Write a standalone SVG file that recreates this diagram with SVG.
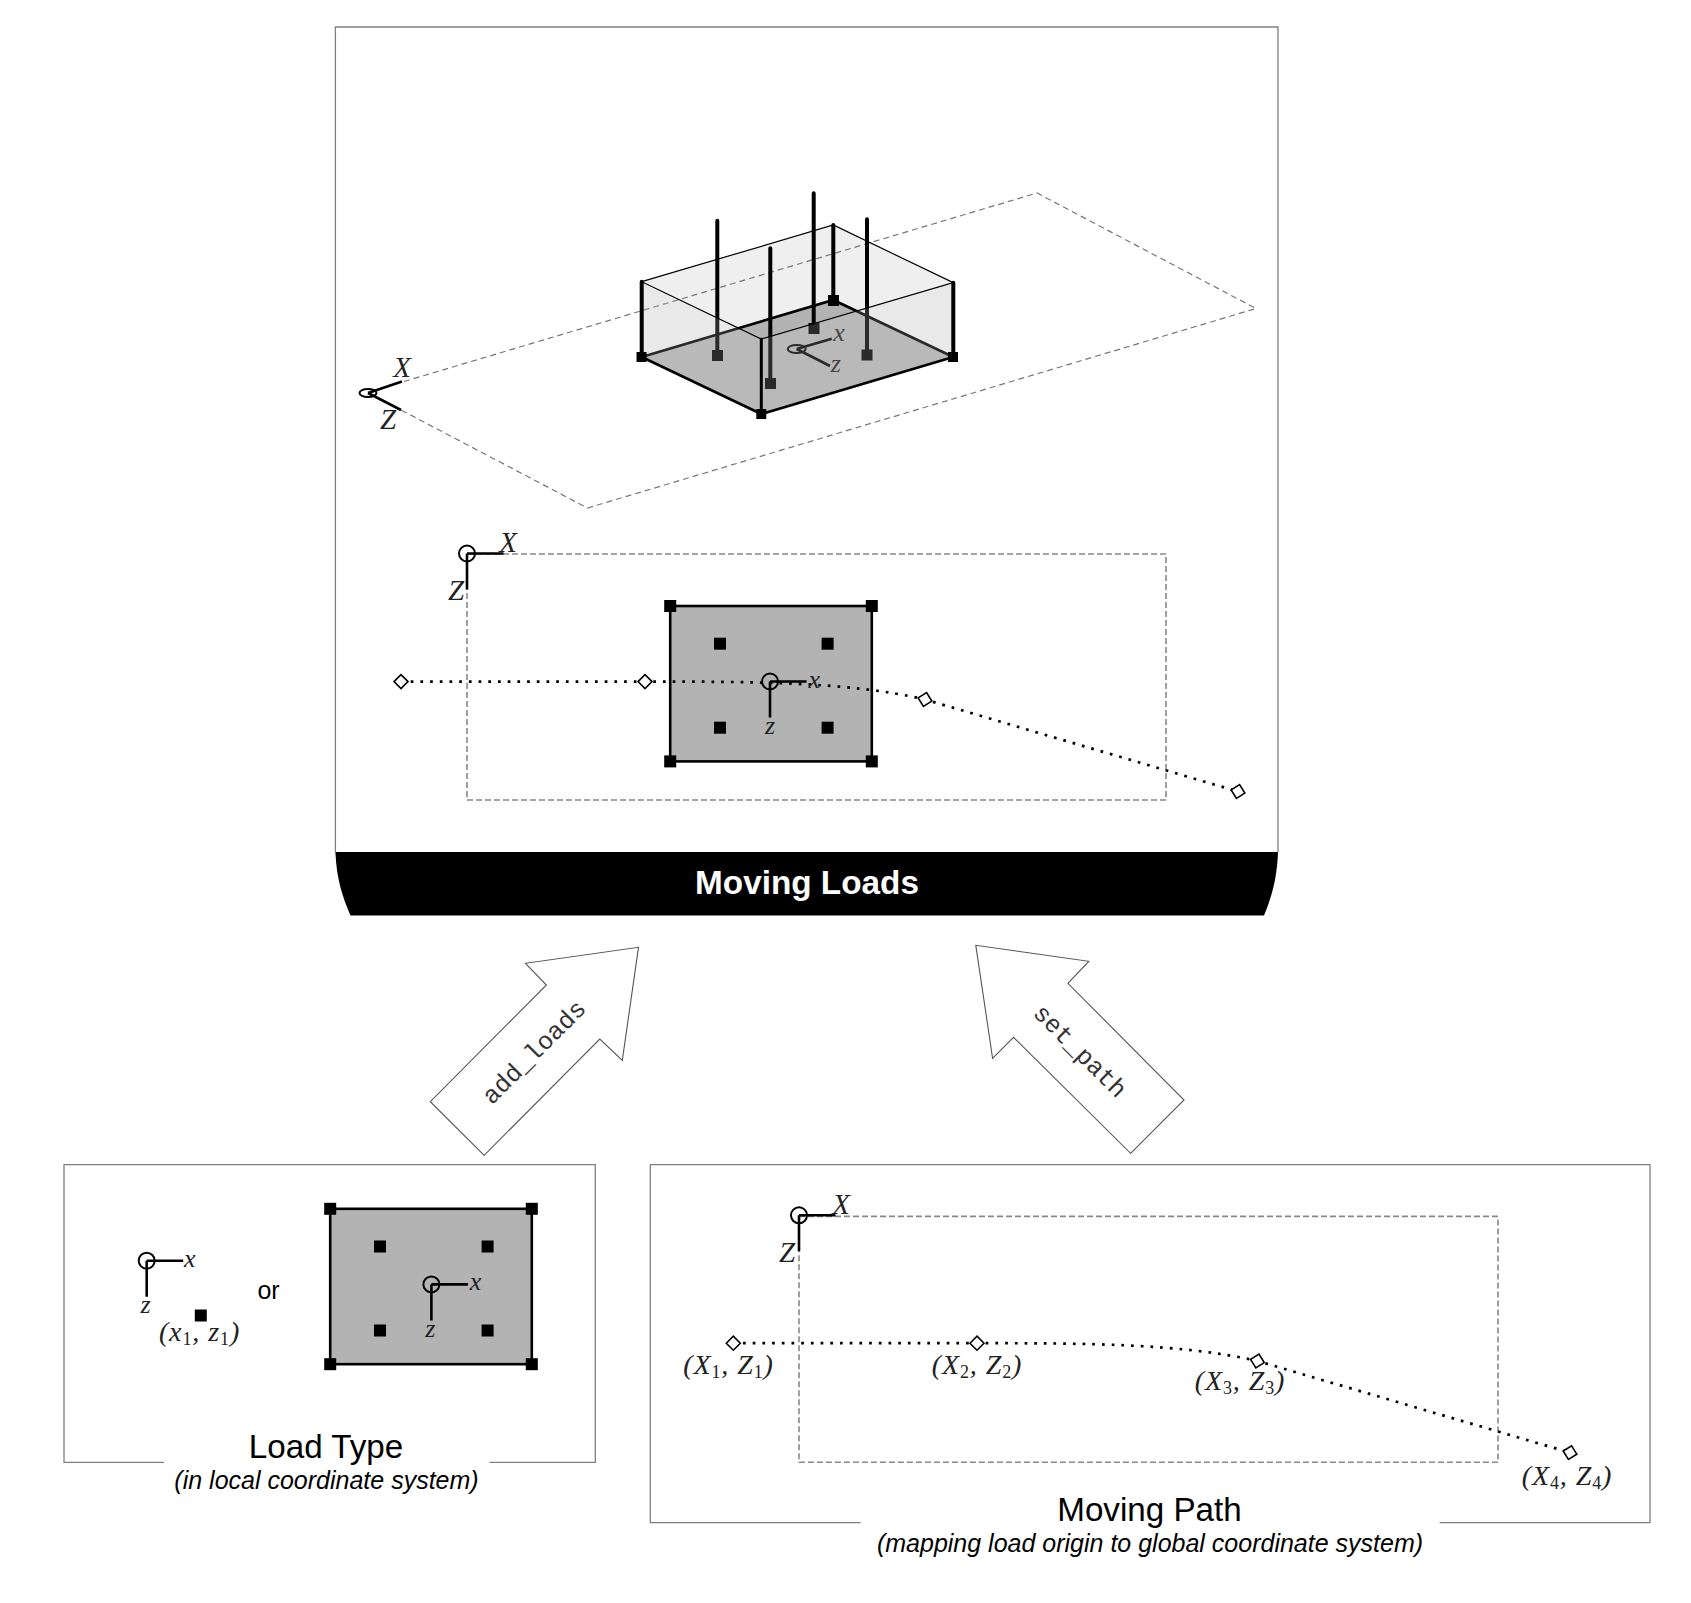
<svg xmlns="http://www.w3.org/2000/svg" width="1691" height="1603" viewBox="0 0 1691 1603">
<defs>
<style>
.frame{fill:none;stroke:#808080;stroke-width:1.3}
.dash{fill:none;stroke:#777;stroke-width:1.2;stroke-dasharray:6 4}
.dash2{fill:none;stroke:#888;stroke-width:1.6;stroke-dasharray:6 3}
.dot{fill:none;stroke:#000;stroke-width:2.7;stroke-dasharray:2.7 7}
.axis{fill:none;stroke:#000;stroke-width:2.6}
.ring{fill:none;stroke:#000;stroke-width:2}
.m{font-family:"Liberation Serif",serif;font-style:italic;font-size:26px;fill:#222;text-anchor:middle}
.M{font-family:"Liberation Serif",serif;font-style:italic;font-size:29px;fill:#222;text-anchor:middle}
.p{font-family:"Liberation Serif",serif;font-style:italic;font-size:28px;fill:#222;text-anchor:middle;letter-spacing:.9px}
.s{font-size:18px;font-style:normal}
.t{font-family:"Liberation Sans",Arial,sans-serif;font-size:33.2px;fill:#000;text-anchor:middle}
.st{font-family:"Liberation Sans",Arial,sans-serif;font-size:25px;font-style:italic;fill:#000;text-anchor:middle}
.mono{font-family:"Liberation Mono",monospace;font-size:25px;fill:#333;text-anchor:middle}
.arrow{fill:#fff;stroke:#555;stroke-width:1.1}
.plate{fill:#b3b3b3;stroke:#000;stroke-width:2.6}
.dia{fill:#fff;stroke:#000;stroke-width:1.6}
</style>
<rect id="sq" x="-6" y="-6" width="12" height="12" fill="#000"/>
<path id="diamond" class="dia" d="M-7 0L0-7L7 0L0 7Z"/>
<g id="plate">
<rect class="plate" x="-100.8" y="-77.7" width="201.6" height="155.4"/>
<use href="#sq" x="-100.8" y="-77.7"/><use href="#sq" x="100.8" y="-77.7"/><use href="#sq" x="-100.8" y="77.7"/><use href="#sq" x="100.8" y="77.7"/>
<use href="#sq" x="-51" y="-40"/><use href="#sq" x="56.6" y="-40"/><use href="#sq" x="-51" y="44"/><use href="#sq" x="56.6" y="44"/>
</g>
<g id="axes2d">
<circle class="ring" r="8"/><path class="axis" d="M0 0H36.5M0 0V36"/>
</g>
</defs>
<rect width="1691" height="1603" fill="#fff"/>

<g id="moving-loads">
<path class="frame" d="M335.4 852V27H1278V852"/>
<path d="M335.4 852H1278C1277 880 1271 898 1264 915.6H350.5C343 898 336.5 880 335.4 852Z" fill="#000"/>
<text x="807" y="894" font-family="Liberation Sans,Arial,sans-serif" font-weight="700" font-size="33.3" fill="#fff" text-anchor="middle">Moving Loads</text>
</g>

<g id="plan-3d">
<path d="M641.7 281.7L833.3 225L953.3 282.7V357L761.3 414L641.7 357Z" fill="#efefef"/>
<path d="M641.7 357L833.3 300L953.3 357L761.3 414Z" fill="#b3b3b3"/>
<path class="dash" d="M404 381.5L1037 193L1256 308.5L587.5 508L401 410"/>
<path d="M641.7 357L833.3 300L953.3 357" fill="none" stroke="#000" stroke-width="2.6"/>
<path d="M833.3 300V225" stroke="#000" stroke-width="4" stroke-linecap="round"/>
<rect x="828" y="295" width="11" height="11" fill="#000"/>
<g stroke="#000" stroke-width="4" stroke-linecap="round">
<path d="M717.3 355V220.7M770.3 383V248.3M813.7 327.7V193.3M867 354.3V219.3"/>
</g>
<rect x="712" y="350" width="11" height="11"/><rect x="765" y="378" width="11" height="11"/><rect x="808.5" y="323" width="11" height="11"/><rect x="861.5" y="349.5" width="11" height="11"/>
<ellipse class="ring" cx="796.7" cy="349" rx="9" ry="4"/>
<path class="axis" d="M796.7 349L831.7 338.7M796.7 349L830 366"/>
<text class="m" x="839" y="341">x</text>
<text class="m" x="835.7" y="372">z</text>
<path d="M641.7 281.7L761.3 339V414L641.7 357Z" fill="#d0d0d0" fill-opacity=".2"/>
<path d="M761.3 339L953.3 282.7V357L761.3 414Z" fill="#d0d0d0" fill-opacity=".2"/>
<path d="M641.7 281.7L833.3 225L953.3 282.7L761.3 339Z" fill="none" stroke="#000" stroke-width="1.2"/>
<path d="M641.7 357L761.3 414L953.3 357" fill="none" stroke="#000" stroke-width="2.6"/>
<path d="M641.7 357V281.7M953.3 357V282.7" stroke="#000" stroke-width="4" stroke-linecap="round"/>
<path d="M761.3 414V339" stroke="#000" stroke-width="3" stroke-linecap="round"/>
<rect x="636.5" y="352" width="10" height="10"/><rect x="948" y="352" width="10" height="10"/><rect x="756.3" y="409" width="10" height="10"/>
<ellipse class="ring" cx="368" cy="393" rx="8.5" ry="4"/>
<path class="axis" d="M368 393L402 381.5M368 393L401 410"/>
<text class="M" x="402" y="377">X</text>
<text class="M" x="388" y="429">Z</text>
</g>

<g id="plan-top">
<rect class="dash2" x="467" y="554" width="699" height="246"/>
<use href="#plate" x="771" y="683.7"/>
<path class="dot" d="M401 681.6H645C750 681.6 850 681.6 925 699.5L1238 791.5"/>
<use href="#diamond" x="401" y="681.6"/><use href="#diamond" x="645" y="681.6"/>
<use href="#diamond" transform="translate(925 699.5) rotate(13)"/><use href="#diamond" transform="translate(1238 791.5) rotate(13)"/>
<use href="#axes2d" x="770" y="681.5"/>
<text class="m" x="814.2" y="687.5">x</text><text class="m" x="770" y="734">z</text>
<use href="#axes2d" x="467" y="553.5"/>
<text class="M" x="508" y="552">X</text><text class="M" x="456" y="599.5">Z</text>
</g>

<g id="connectors">
<path id="c-add" class="arrow" d="M484.2 1155.3L430.3 1101.7L546.4 985L525.5 963.3L638.5 947.3L622.3 1060.3L599.8 1039Z"/>
<text class="mono" transform="translate(534 1052) rotate(-45)" y="8">add_loads</text>
<path id="c-set" class="arrow" d="M1130.6 1153.3L1184 1100L1067.9 983.3L1088.8 961.3L975.8 945.3L992.6 1058.3L1013.5 1037.3Z"/>
<text class="mono" transform="translate(1080 1051) rotate(45)" y="8">set_path</text>
</g>

<g id="load-type">
<path class="frame" d="M164 1462.3H64V1164.7H595.3V1462.3H489.6"/>
<use href="#axes2d" x="146.7" y="1260.7"/>
<text class="m" x="189.8" y="1266.7">x</text><text class="m" x="145.6" y="1313">z</text>
<use href="#sq" x="200.8" y="1315.5"/>
<text class="p" x="199.5" y="1340.5">(x<tspan class="s" dy="4">1</tspan><tspan dy="-4">, z</tspan><tspan class="s" dy="4">1</tspan><tspan dy="-4">)</tspan></text>
<text x="268.5" y="1298.7" font-family="Liberation Sans,Arial,sans-serif" font-size="25" text-anchor="middle">or</text>
<use href="#plate" x="431" y="1286.5"/>
<use href="#axes2d" x="431.4" y="1284.4"/>
<text class="m" x="475.6" y="1290.4">x</text><text class="m" x="430.3" y="1336.7">z</text>
<text class="t" x="326" y="1458">Load Type</text>
<text class="st" x="326.5" y="1489">(in local coordinate system)</text>
</g>

<g id="moving-path">
<path class="frame" d="M860.6 1522.7H650.3V1164.7H1650V1522.7H1439.6"/>
<rect class="dash2" x="799" y="1216.4" width="699" height="245.9"/>
<path class="dot" d="M733.3 1343.2H977C1081 1343.2 1181 1343.2 1257.4 1361L1570 1452.6"/>
<use href="#diamond" x="733.3" y="1343.2"/><use href="#diamond" x="977" y="1343.2"/>
<use href="#diamond" transform="translate(1257.4 1361) rotate(13)"/><use href="#diamond" transform="translate(1570 1452.6) rotate(13)"/>
<use href="#axes2d" x="799" y="1215.3"/>
<text class="M" x="841" y="1214">X</text><text class="M" x="787" y="1261.5">Z</text>
<text class="p" x="728.5" y="1374">(X<tspan class="s" dy="4">1</tspan><tspan dy="-4">, Z</tspan><tspan class="s" dy="4">1</tspan><tspan dy="-4">)</tspan></text>
<text class="p" x="977" y="1374">(X<tspan class="s" dy="4">2</tspan><tspan dy="-4">, Z</tspan><tspan class="s" dy="4">2</tspan><tspan dy="-4">)</tspan></text>
<text class="p" x="1240" y="1390">(X<tspan class="s" dy="4">3</tspan><tspan dy="-4">, Z</tspan><tspan class="s" dy="4">3</tspan><tspan dy="-4">)</tspan></text>
<text class="p" x="1567" y="1485">(X<tspan class="s" dy="4">4</tspan><tspan dy="-4">, Z</tspan><tspan class="s" dy="4">4</tspan><tspan dy="-4">)</tspan></text>
<text class="t" x="1149.5" y="1521">Moving Path</text>
<text class="st" x="1150" y="1552">(mapping load origin to global coordinate system)</text>
</g>
</svg>
